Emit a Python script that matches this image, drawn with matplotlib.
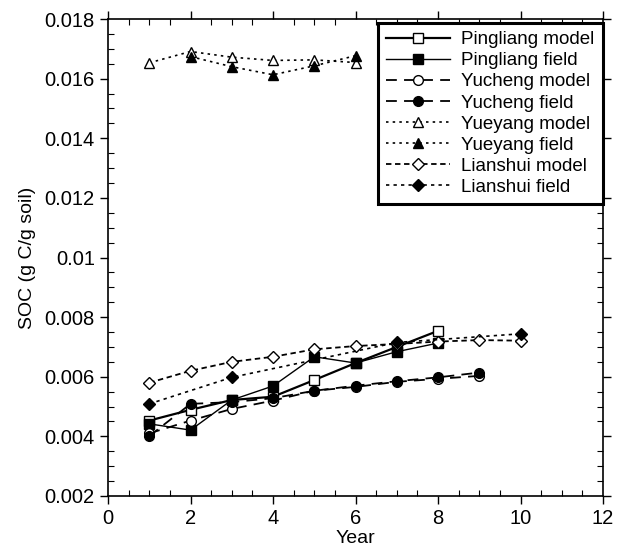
import matplotlib
matplotlib.use("Agg")
import matplotlib.pyplot as plt
from matplotlib.ticker import MultipleLocator

plt.rcParams["font.family"] = ["Liberation Sans", "DejaVu Sans"]

# SOC values (g C / g soil)
years_pl = [1, 2, 3, 4, 5, 6, 7, 8]
pingliang_model = [0.00453, 0.00489, 0.00522, 0.00533, 0.00589, 0.00646, 0.00700, 0.00754]
pingliang_field = [0.00442, 0.00421, 0.00522, 0.00569, 0.00667, 0.00646, 0.00684, 0.00713]

years_yc = [1, 2, 3, 4, 5, 6, 7, 8, 9]
yucheng_model = [0.00410, 0.00453, 0.00492, 0.00520, 0.00553, 0.00566, 0.00583, 0.00593, 0.00603]
yucheng_field = [0.00401, 0.00509, 0.00515, 0.00528, 0.00553, 0.00570, 0.00585, 0.00598, 0.00614]

years_yy = [1, 2, 3, 4, 5, 6]
yueyang_model = [0.01653, 0.01691, 0.01672, 0.01661, 0.01663, 0.01654]
years_yy_f = [2, 3, 4, 5, 6]
yueyang_field = [0.01674, 0.01640, 0.01613, 0.01643, 0.01677]

years_ls = [1, 2, 3, 4, 5, 6, 7, 8, 9, 10]
lianshui_model = [0.00580, 0.00620, 0.00650, 0.00667, 0.00692, 0.00703, 0.00710, 0.00718, 0.00723, 0.00721]
years_ls_f = [1, 3, 7, 10]
lianshui_field = [0.00509, 0.00598, 0.00715, 0.00744]

fig = plt.figure(figsize=(6.18, 5.48), dpi=100)
ax = fig.add_axes([0.1748, 0.0949, 0.801, 0.8704])

ms = 7
ax.plot(years_pl, pingliang_model, "-", color="k", lw=1.6, marker="s", mfc="white", mec="k", ms=ms, label="Pingliang model")
ax.plot(years_pl, pingliang_field, "-", color="k", lw=1.0, marker="s", mfc="k", mec="k", ms=ms, label="Pingliang field")
ax.plot(years_yc, yucheng_model, color="k", lw=1.3, ls=(0, (6, 4)), marker="o", mfc="white", mec="k", ms=ms, label="Yucheng model")
ax.plot(years_yc, yucheng_field, color="k", lw=1.3, ls=(0, (6, 4)), marker="o", mfc="k", mec="k", ms=ms, label="Yucheng field")
ax.plot(years_yy, yueyang_model, color="k", lw=1.2, ls=(0, (1.5, 2.5)), marker="^", mfc="white", mec="k", ms=ms, label="Yueyang model")
ax.plot(years_yy_f, yueyang_field, color="k", lw=1.2, ls=(0, (1.5, 2.5)), marker="^", mfc="k", mec="k", ms=ms, label="Yueyang field")
ax.plot(years_ls, lianshui_model, color="k", lw=1.3, ls=(0, (3, 2)), marker="D", mfc="white", mec="k", ms=6, label="Lianshui model")
ax.plot(years_ls_f, lianshui_field, color="k", lw=1.2, ls=(0, (2, 2.5)), marker="D", mfc="k", mec="k", ms=6, label="Lianshui field")

ax.set_xlim(0, 12)
ax.set_ylim(0.002, 0.018)
ax.xaxis.set_major_locator(MultipleLocator(2))
ax.xaxis.set_minor_locator(MultipleLocator(0.5))
ax.yaxis.set_major_locator(MultipleLocator(0.002))
ax.yaxis.set_minor_locator(MultipleLocator(0.0005))
ax.set_yticks([0.002, 0.004, 0.006, 0.008, 0.01, 0.012, 0.014, 0.016, 0.018])
ax.set_yticklabels(["0.002", "0.004", "0.006", "0.008", "0.01", "0.012", "0.014", "0.016", "0.018"])

ax.tick_params(which="major", direction="out", length=6, width=1, labelsize=14.5, top=True, right=True)
ax.tick_params(which="minor", direction="in", length=4, width=0.8, top=True, right=True)
for s in ax.spines.values():
    s.set_linewidth(1.2)

ax.set_xlabel("Year", fontsize=14, labelpad=1)
ax.set_ylabel("SOC (g C/g soil)", fontsize=14, labelpad=6)

leg = ax.legend(loc="upper right", bbox_to_anchor=(1.003, 0.996), fontsize=13.5, handlelength=3.4,
                labelspacing=0.21, borderpad=0.45, handletextpad=0.6, borderaxespad=0.1,
                fancybox=False, frameon=True, shadow=False, framealpha=1)
leg.get_frame().set_edgecolor("k")
leg.get_frame().set_linewidth(2.2)

fig.savefig("out.png", dpi=100)
